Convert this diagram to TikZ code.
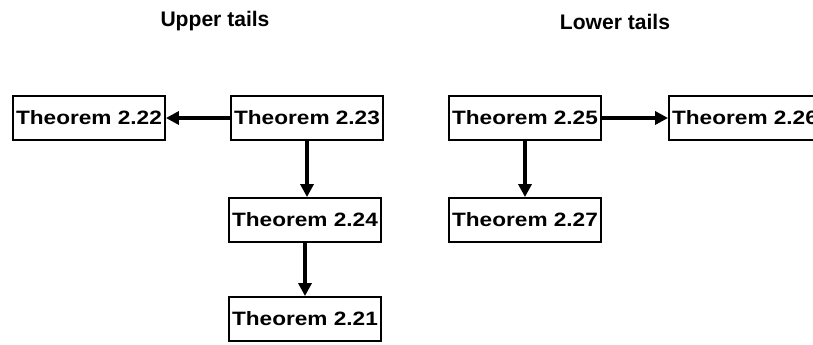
\documentclass[tikz,border=0pt]{standalone}
\usepackage{fontspec}
\setmainfont{Liberation Sans}
\newfontfamily\boxfont[FakeStretch=1.17]{Liberation Sans}
\usetikzlibrary{arrows.meta}

\begin{document}
\begin{tikzpicture}[
		x=0.03cm, y=-0.03cm,
		>={Triangle[length=11pt, width=11pt]},
		theorem/.style={
			draw=black, line width=1.6pt, fill=white,
			minimum width=4.56cm, minimum height=1.32cm, inner sep=0pt,
			font=\boxfont\fontsize{16.5}{19}\selectfont\bfseries
		},
		header/.style={font=\fontsize{18}{21}\selectfont\bfseries},
		implies/.style={->, line width=3pt}
		]
		
		% Canvas
		\useasboundingbox (0,0) rectangle (813,345);
		\clip (0,0) rectangle (813,345);
		
		% ==========================================
		% LEFT: Upper tails
		% ==========================================
		
		\node[header] (upper) at (215,21) {Upper tails};
		
		\node[theorem] (t22) at (89,118) {Theorem 2.22};
		\node[theorem] (t23) at (307,118) {Theorem 2.23};
		\node[theorem] (t24) at (305,220) {Theorem 2.24};
		\node[theorem] (t21) at (305,319) {Theorem 2.21};
		
		\draw[implies] (t23) -- (t22);
		\draw[implies] (t23.south) -- (t23.south |- t24.north);
		\draw[implies] (t24) -- (t21);
		
		% ==========================================
		% RIGHT: Lower tails
		% ==========================================
		
		\node[header] (lower) at (615,22) {Lower tails};
		
		\node[theorem] (t25) at (525,118) {Theorem 2.25};
		\node[theorem] (t26) at (745,118) {Theorem 2.26};
		\node[theorem] (t27) at (525,220) {Theorem 2.27};
		
		\draw[implies] (t25) -- (t26);
		\draw[implies] (t25) -- (t27);
		
	\end{tikzpicture}
\end{document}
